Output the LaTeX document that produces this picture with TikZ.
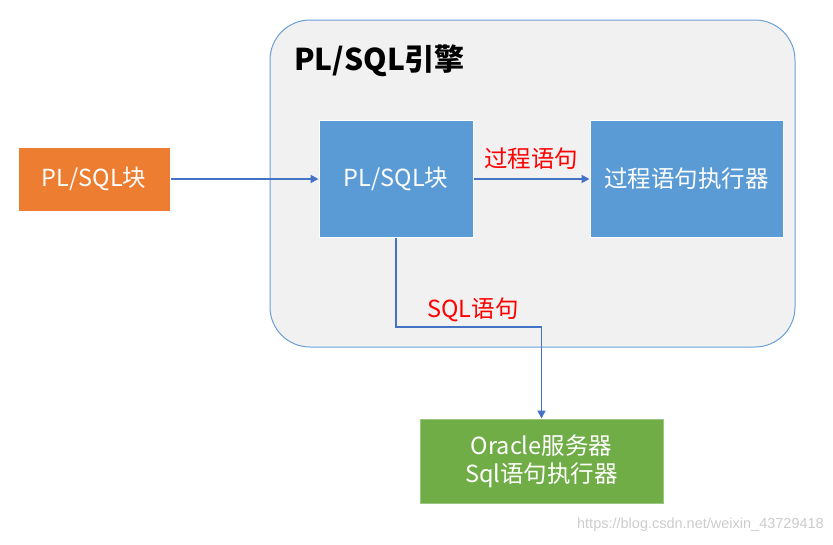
\documentclass[tikz,border=0pt]{standalone}
\usepackage{fontspec}
\setmainfont{Noto Sans CJK SC}
\newfontfamily\wmfont{Liberation Sans}
\usetikzlibrary{arrows.meta}
\definecolor{cOrange}{HTML}{ED7D31}
\definecolor{cBlue}{HTML}{5B9BD5}
\definecolor{cGreen}{HTML}{70AD47}
\definecolor{cArrow}{HTML}{4472C4}
\definecolor{cEngine}{HTML}{F1F1F1}
\definecolor{cEngineLine}{HTML}{6A9FDA}
\tikzset{
  box/.style={draw=white, line width=1pt, text=white, font=\fontsize{23.5}{28}\selectfont, inner sep=0pt, align=center},
  arr/.style={draw=cArrow, line width=1.8pt, -{Triangle[width=8pt,length=8pt]}},
  redlbl/.style={text=red, font=\fontsize{23.5}{27}\selectfont, inner sep=0pt}
}
\begin{document}
\begin{tikzpicture}[x=1pt,y=-1pt]
\useasboundingbox (0,0) rectangle (833,544);
\draw[cEngineLine, fill=cEngine, line width=1pt, rounded corners=40pt] (270,20) rectangle (795,347);
\node[font=\fontsize{30}{34}\selectfont\bfseries, anchor=west, inner sep=0pt] (title) at (294,61) {PL/SQL引擎};
\node[box, fill=cOrange, minimum width=152pt, minimum height=64pt] (src) at (94,179) {PL/SQL块};
\node[box, fill=cBlue, minimum width=154pt, minimum height=117pt] (blk) at (396,179) {PL/SQL块};
\node[box, fill=cBlue, minimum width=193pt, minimum height=117pt] (proc) at (686.5,179) {过程语句执行器};
\node[box, fill=cGreen, draw=cGreen!70!white, minimum width=243pt, minimum height=84pt] (ora) at (541.5,461) {Oracle服务器\\Sql语句执行器};
\draw[arr] (src) -- (blk);
\draw[arr] (blk) -- (proc);
\node[redlbl] (l1) at (531,159) {过程语句};
\coordinate (jog) at (470,327);
\draw[arr] (blk.south) |- (jog) -| (ora.north);
\node[redlbl] (l2) at (473,310) {SQL语句};
\node[text=black!20, font=\wmfont\fontsize{14.5}{16}\selectfont, anchor=east, inner sep=0pt] (wm) at (824,525) {https://blog.csdn.net/weixin\_43729418};
\end{tikzpicture}
\end{document}
